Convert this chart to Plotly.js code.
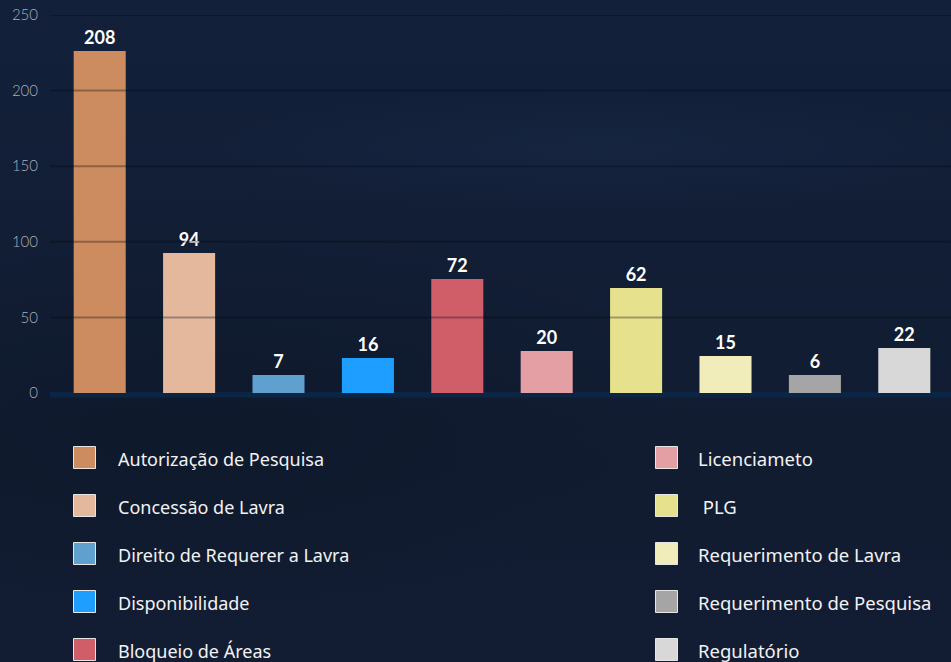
<!DOCTYPE html>
<html>
<head>
<meta charset="utf-8">
<script src="https://cdn.plot.ly/plotly-3.0.1.min.js"></script>
<style>
  html, body { margin: 0; padding: 0; }
  body {
    width: 951px; height: 662px; overflow: hidden;
    background:
      radial-gradient(ellipse 420px 60px at 600px 150px, rgba(30,50,85,0.30), rgba(0,0,0,0)),
      radial-gradient(ellipse 500px 200px at 200px 420px, rgba(10,18,32,0.35), rgba(0,0,0,0)),
      linear-gradient(180deg, #13203a 0%, #121e35 40%, #111c31 70%, #121d33 100%);
  }
  #chart { width: 951px; height: 662px; }
</style>
</head>
<body>
<div id="chart"></div>
<script>
// ---- data ----
const categories = [
  "Autorização de Pesquisa",
  "Concessão de Lavra",
  "Direito de Requerer a Lavra",
  "Disponibilidade",
  "Bloqueio de Áreas",
  "Licenciameto",
  " PLG",
  "Requerimento de Lavra",
  "Requerimento de Pesquisa",
  "Regulatório"
];
// value labels printed above each bar
const counts = [208, 94, 7, 16, 72, 20, 62, 15, 6, 22];
// drawn bar heights (on the 0-250 axis)
const barHeights = [226.2, 92.6, 11.9, 23.1, 75.4, 27.8, 69.4, 24.5, 11.9, 29.8];
const colors = [
  "#cd8c5f", "#e3b89d", "#5fa0cf", "#1e9fff", "#d05e69",
  "#e39fa4", "#e6e18c", "#f1edba", "#a5a5a5", "#d8d8d8"
];
const yTicks = [0, 50, 100, 150, 200, 250];

// ---- layout constants ----
const W = 951, H = 662;
const M = { l: 55, r: 2, t: 15, b: 269 };
const PW = W - M.l - M.r, PH = H - M.t - M.b;
const px2x = p => (p - M.l) / PW;
const px2y = p => (H - M.b - p) / PH;

const traces = categories.map((c, i) => ({
  type: "bar",
  name: c,
  x: [c],
  y: [barHeights[i]],
  text: [String(counts[i])],
  textposition: "outside",
  cliponaxis: false,
  textfont: { family: "Lato, 'Open Sans', sans-serif", size: 18, color: "#ffffff", weight: "bold" },
  marker: { color: colors[i], line: { width: 0 } },
  showlegend: false,
  hoverinfo: "x+y"
}));

const shapes = [];
// gridlines drawn above bars
yTicks.filter(v => v > 0).forEach(v => {
  shapes.push({
    type: "line", layer: "above",
    xref: "paper", yref: "y",
    x0: px2x(50), x1: px2x(951), y0: v, y1: v,
    line: { color: "rgba(4,9,18,0.32)", width: 2 }
  });
});
// thick baseline
shapes.push({
  type: "rect", layer: "below",
  xref: "paper", yref: "paper",
  x0: px2x(50), x1: px2x(951), y0: px2y(397.5), y1: px2y(392),
  fillcolor: "#0a2644", line: { width: 0 }
});

// custom legend: two columns of five
const annotations = [];
const colX = [73.5, 655.5];
const textOff = [42, 40];
const colFont = [18, 18.5];
const rowY0 = 457.5, rowStep = 48, sw = 22;
categories.forEach((c, i) => {
  const col = Math.floor(i / 5), row = i % 5;
  const cx = colX[col], cy = rowY0 + row * rowStep;
  shapes.push({
    type: "rect", layer: "above",
    xref: "paper", yref: "paper",
    x0: px2x(cx), x1: px2x(cx + sw),
    y0: px2y(cy + sw / 2), y1: px2y(cy - sw / 2),
    fillcolor: colors[i],
    line: { color: "#e6e6e6", width: 1 }
  });
  annotations.push({
    xref: "paper", yref: "paper",
    x: px2x(cx + textOff[col]), y: px2y(cy + 1),
    xanchor: "left", yanchor: "middle",
    text: c.replace(/^ /, "&nbsp;"),
    showarrow: false,
    font: { family: "'Noto Sans', 'Open Sans', sans-serif", size: colFont[col], color: "#f2f2f2" }
  });
});

const layout = {
  width: W, height: H,
  margin: M,
  paper_bgcolor: "rgba(0,0,0,0)",
  plot_bgcolor: "rgba(0,0,0,0)",
  bargap: 0.418,
  showlegend: false,
  xaxis: {
    type: "category",
    categoryorder: "array",
    categoryarray: categories,
    showticklabels: false,
    showgrid: false, zeroline: false, showline: false, ticks: ""
  },
  yaxis: {
    range: [0, 250],
    tickvals: yTicks,
    ticktext: yTicks.map(String),
    showgrid: false, zeroline: false, showline: false, ticks: "",
    ticklabelstandoff: 16,
    tickfont: { family: "Lato, 'Open Sans', sans-serif", size: 15, color: "#a7aebb", weight: 300 }
  },
  shapes: shapes,
  annotations: annotations
};

Plotly.newPlot("chart", traces, layout, { displayModeBar: false, staticPlot: true });
</script>
</body>
</html>
